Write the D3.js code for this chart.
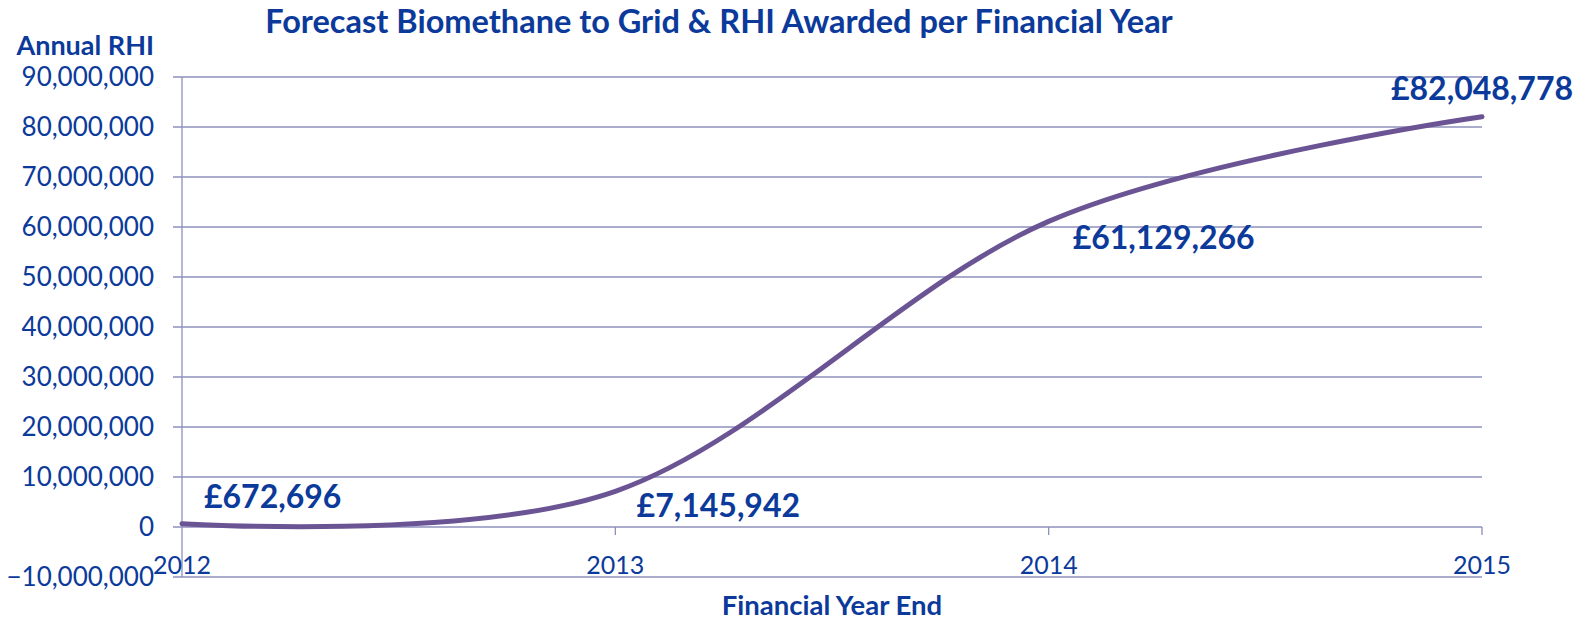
<!DOCTYPE html>
<html>
<head>
<meta charset="utf-8">
<script src="https://cdn.jsdelivr.net/npm/d3@7"></script>
<style>
  body { margin: 0; background: #fff; }
  text { font-family: Lato, "Open Sans", sans-serif; fill: #0b3a9b; }
</style>
</head>
<body>
<div id="chart"></div>
<script>
// data
const years = [2012, 2013, 2014, 2015];
const rhi = [672696, 7145942, 61129266, 82048778];
const pointLabels = ["£672,696", "£7,145,942", "£61,129,266", "£82,048,778"];
const yTicks = [-10e6, 0, 10e6, 20e6, 30e6, 40e6, 50e6, 60e6, 70e6, 80e6, 90e6];

const textColor = "#0b3a9b";
const gridColor = "#8e90bd";
const lineColor = "#6b5494";

const width = 1592, height = 620;
const margin = { top: 77, right: 110, bottom: 43, left: 182 };

const svg = d3.select("#chart").append("svg")
  .attr("width", width)
  .attr("height", height);

const x = d3.scaleLinear()
  .domain([2012, 2015])
  .range([margin.left, width - margin.right]);

const y = d3.scaleLinear()
  .domain([-10e6, 90e6])
  .range([height - margin.bottom, margin.top]);

// gridlines + tick stubs
svg.append("g")
  .selectAll("line")
  .data(yTicks)
  .join("line")
  .attr("x1", margin.left - 9)
  .attr("x2", x(2015))
  .attr("y1", d => y(d))
  .attr("y2", d => y(d))
  .attr("stroke", gridColor)
  .attr("stroke-width", 1.3);

// y axis line
svg.append("line")
  .attr("x1", margin.left).attr("x2", margin.left)
  .attr("y1", y(90e6)).attr("y2", y(-10e6))
  .attr("stroke", gridColor)
  .attr("stroke-width", 1.3);

// x tick marks (on the zero line)
svg.append("g")
  .selectAll("line")
  .data(years.slice(1))
  .join("line")
  .attr("x1", d => x(d)).attr("x2", d => x(d))
  .attr("y1", y(0)).attr("y2", y(0) + 8)
  .attr("stroke", gridColor)
  .attr("stroke-width", 1.3);

// y tick labels
const fmt = d3.format(",");
svg.append("g")
  .selectAll("text")
  .data(yTicks)
  .join("text")
  .attr("x", margin.left - 28)
  .attr("y", d => y(d))
  .attr("dy", "0.36em")
  .attr("text-anchor", "end")
  .style("font-size", "26px")
  .text(d => d === 0 ? "0" : fmt(d));

// x tick labels
svg.append("g")
  .selectAll("text")
  .data(years)
  .join("text")
  .attr("x", d => x(d))
  .attr("y", 565)
  .attr("dy", "0.36em")
  .attr("text-anchor", "middle")
  .style("font-size", "25px")
  .text(d => d);

// line
const line = d3.line()
  .x((d, i) => x(years[i]))
  .y(d => y(d))
  .curve(d3.curveCardinal.tension(0));

svg.append("path")
  .datum(rhi)
  .attr("d", line)
  .attr("fill", "none")
  .attr("stroke", lineColor)
  .attr("stroke-width", 5)
  .attr("stroke-linecap", "round");

// data labels
const labelPos = [
  { dx: 22, dy: -27 },
  { dx: 103, dy: 14 },
  { dx: 115, dy: 16 },
  { dx: 0, dy: -28 }
];
svg.append("g")
  .selectAll("text")
  .data(rhi)
  .join("text")
  .attr("x", (d, i) => x(years[i]) + labelPos[i].dx)
  .attr("y", (d, i) => y(d) + labelPos[i].dy)
  .attr("dy", "0.36em")
  .attr("text-anchor", (d, i) => i === 0 ? "start" : "middle")
  .style("font-size", "32px")
  .style("font-weight", "bold")
  .text((d, i) => pointLabels[i]);

// titles
svg.append("text")
  .attr("x", 719).attr("y", 21)
  .attr("dy", "0.36em")
  .attr("text-anchor", "middle")
  .style("font-size", "32.5px")
  .style("font-weight", "bold")
  .text("Forecast Biomethane to Grid & RHI Awarded per Financial Year");

svg.append("text")
  .attr("x", 154).attr("y", 45)
  .attr("dy", "0.36em")
  .attr("text-anchor", "end")
  .style("font-size", "27px")
  .style("font-weight", "bold")
  .text("Annual RHI");

svg.append("text")
  .attr("x", (x(2012) + x(2015)) / 2).attr("y", 605)
  .attr("dy", "0.36em")
  .attr("text-anchor", "middle")
  .style("font-size", "27.5px")
  .style("font-weight", "bold")
  .text("Financial Year End");
</script>
</body>
</html>
